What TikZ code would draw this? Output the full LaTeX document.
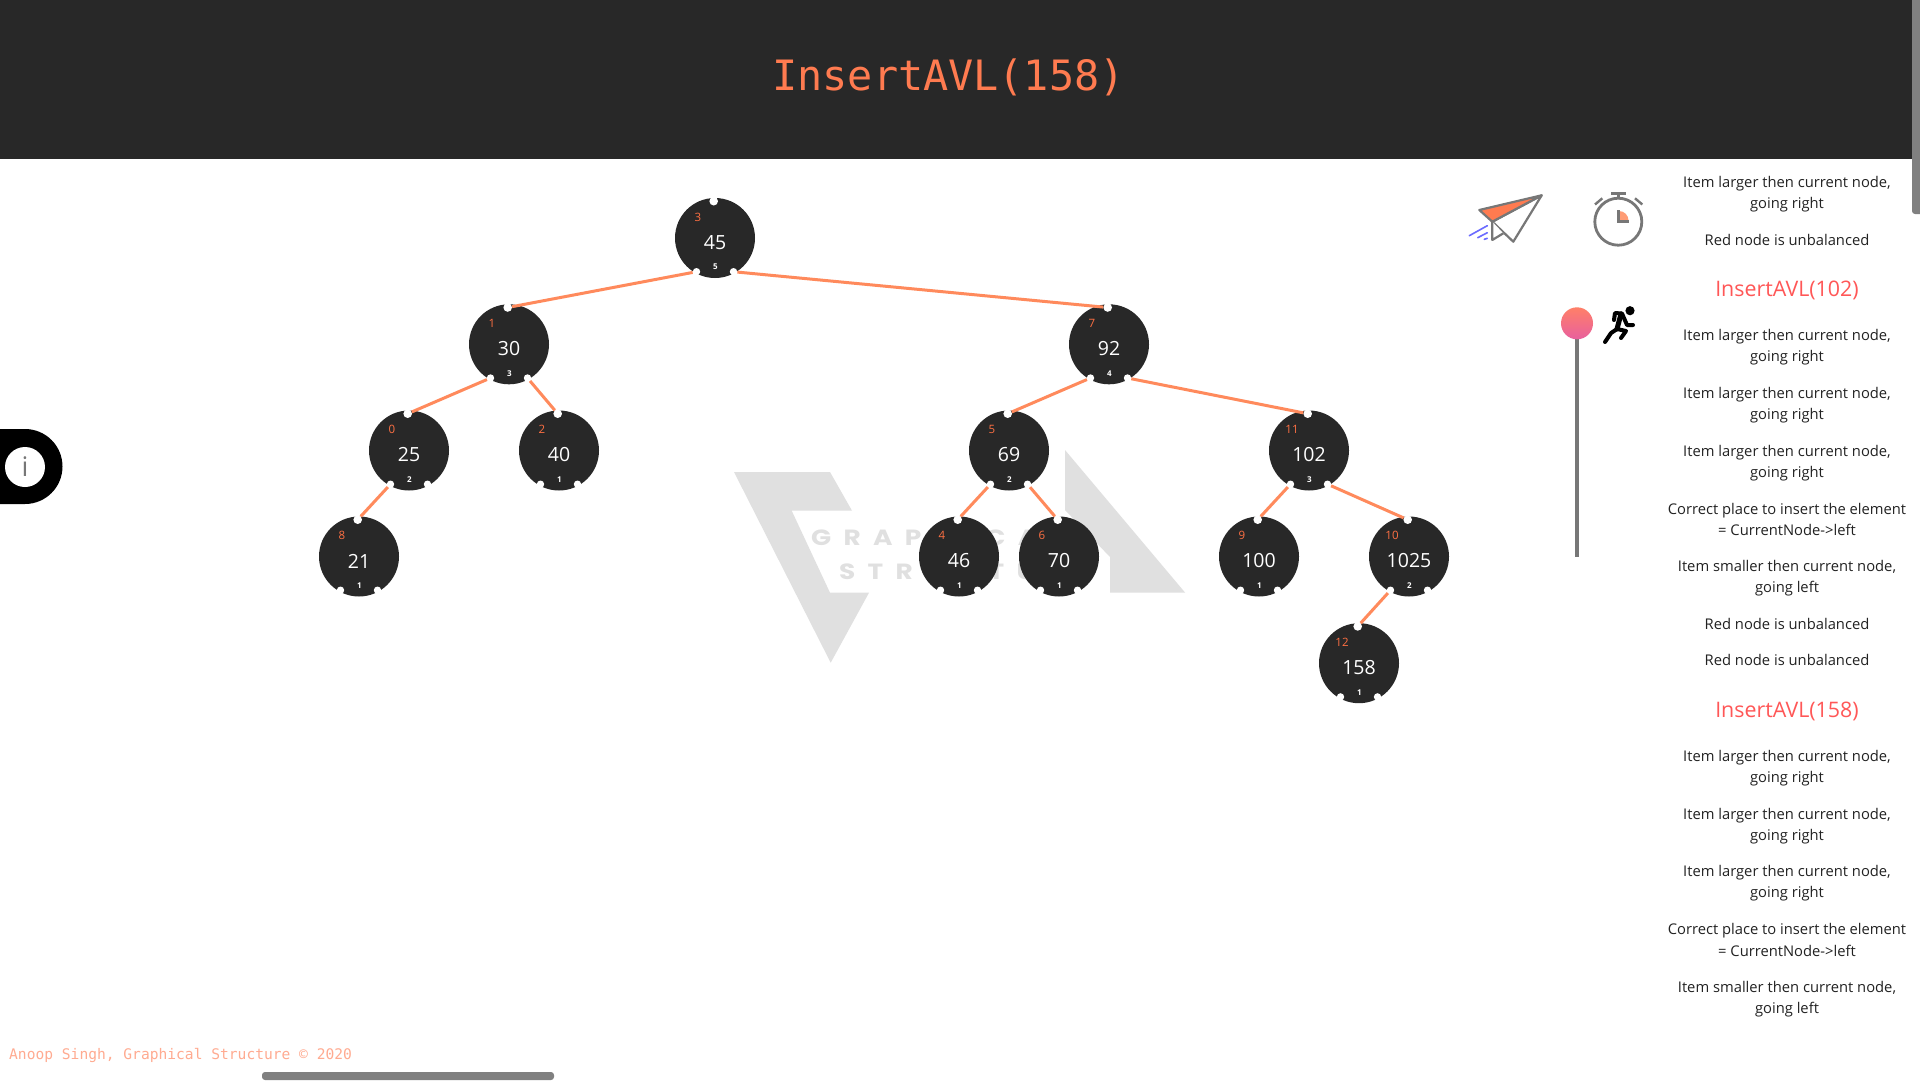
\documentclass[tikz,border=0pt]{standalone}
\usepackage{fontspec}
\setmainfont{Open Sans}
\newfontfamily\codefont{DejaVu Sans Mono}
\newfontfamily\valfont{Open Sans}
\newfontfamily\wmfont[FakeStretch=1.2,LetterSpace=56]{Poppins}
\definecolor{panel}{HTML}{282828}
\definecolor{edgeorange}{HTML}{FF8A5C}
\definecolor{titleorange}{HTML}{FF7B50}
\definecolor{idxorange}{HTML}{FF7043}
\definecolor{wm}{HTML}{E0E0E0}
\definecolor{iconline}{HTML}{777777}
\definecolor{msgred}{HTML}{FF5757}
\definecolor{msgtext}{HTML}{222222}
\definecolor{footer}{HTML}{FFAB91}
\definecolor{barg}{HTML}{808080}
\definecolor{speed}{HTML}{6B6BFF}
\definecolor{pintop}{HTML}{FF8068}
\definecolor{pinbot}{HTML}{E8609E}
\newcommand{\fs}[1]{\fontsize{#1}{#1}\selectfont}
\tikzset{
  x=1pt,y=-1pt,
  treecircle/.style={circle,fill=panel,draw=none,minimum size=80pt,inner sep=0pt},
  hole/.style={circle,fill=white,draw=none,minimum size=7.4pt,inner sep=0pt},
  tophole/.style={circle,fill=white,draw=none,minimum size=8.6pt,inner sep=0pt},
  valtext/.style={text=white,font=\valfont\fs{19.5},inner sep=0pt},
  idxtext/.style={text=idxorange,font=\valfont\fs{11.5},inner sep=0pt},
  baltext/.style={text=white,font=\valfont\bfseries\fs{8},inner sep=0pt},
  treeedge/.style={draw=edgeorange,line width=3pt},
  msg/.style={align=center,text=msgtext,font=\fs{14.75},inner sep=0pt},
  msgtitle/.style={text=msgred,font=\fs{21.4},inner sep=0pt},
  iconstroke/.style={draw=iconline,line width=2.2pt,line join=round},
  runner/.style={draw=black,line width=4pt,line join=round,line cap=round},
  speedline/.style={draw=speed,line width=1.6pt,line cap=round},
  wmtext/.style={text=wm,font=\wmfont\bfseries\fs{22},inner sep=0pt},
}
% name, x, y, value, index, balance
\newcommand{\avl}[6]{%
  \node[treecircle] (#1) at (#2,#3) {};
  \node[tophole] (#1-t) at ([xshift=-1.3pt,yshift=36.8pt]#1.center) {};
  \node[hole] (#1-l) at ([xshift=-18.5pt,yshift=-33.7pt]#1.center) {};
  \node[hole] (#1-r) at ([xshift=18.5pt,yshift=-33.7pt]#1.center) {};
  \node[valtext] (#1-v) at ([yshift=-4.5pt]#1.center) {#4};
  \node[idxtext] (#1-i) at ([xshift=-17pt,yshift=21pt]#1.center) {#5};
  \node[baltext] (#1-b) at ([xshift=0.5pt,yshift=-29pt]#1.center) {#6};
}
\begin{document}
\begin{tikzpicture}
\useasboundingbox (0,0) rectangle (1920,1080);
\fill[white] (0,0) rectangle (1920,1080);
% watermark
\fill[wm] (734,472) -- (830,472) -- (852,510.7) -- (791.7,510.7) -- (830,592.7) -- (869,592.7) -- (830.7,662.7) -- cycle;
\fill[wm] (1065,450) -- (1185,592.5) -- (1110,592.5) -- (1110,557) -- (1065,510) -- cycle;
\node[wmtext,anchor=west] (wmA) at (811,538) {GRAPHICAL};
\node[wmtext,anchor=west] (wmB) at (839,572) {STRUCTURE};
% header
\fill[panel] (0,0) rectangle (1920,159);
\node[text=titleorange,font=\codefont\fs{41.8},inner sep=0pt] (title) at (948.5,77) {InsertAVL(158)};
% scrollbars
\fill[barg,rounded corners=3pt] (1912,-6) rectangle (1926,214);
\fill[barg,rounded corners=3pt] (262,1072) rectangle (554,1080);
% tree
\avl{n45}{715}{238}{45}{3}{5}
\avl{n30}{509}{344.3}{30}{1}{3}
\avl{n92}{1109}{344.3}{92}{7}{4}
\avl{n25}{409}{450.5}{25}{0}{2}
\avl{n40}{559}{450.5}{40}{2}{1}
\avl{n69}{1009}{450.5}{69}{5}{2}
\avl{n102}{1309}{450.5}{102}{11}{3}
\avl{n21}{359}{556.5}{21}{8}{1}
\avl{n46}{959}{556.5}{46}{4}{1}
\avl{n70}{1059}{556.5}{70}{6}{1}
\avl{n100}{1259}{556.5}{100}{9}{1}
\avl{n1025}{1409}{556.5}{1025}{10}{2}
\avl{n158}{1359}{663.2}{158}{12}{1}
\draw[treeedge] (n45-l) -- (n30-t);
\draw[treeedge] (n45-r) -- (n92-t);
\draw[treeedge] (n30-l) -- (n25-t);
\draw[treeedge] (n30-r) -- (n40-t);
\draw[treeedge] (n92-l) -- (n69-t);
\draw[treeedge] (n92-r) -- (n102-t);
\draw[treeedge] (n25-l) -- (n21-t);
\draw[treeedge] (n69-l) -- (n46-t);
\draw[treeedge] (n69-r) -- (n70-t);
\draw[treeedge] (n102-l) -- (n100-t);
\draw[treeedge] (n102-r) -- (n1025-t);
\draw[treeedge] (n1025-l) -- (n158-t);
% info button
\fill[black] (0,429) -- (25,429) arc[start angle=-90,end angle=90,radius=37.5] -- (0,504) -- cycle;
\node[circle,fill=white,minimum size=40pt,inner sep=0pt] (info) at (25,467) {};
\node[text=iconline,font=\fs{27},inner sep=0pt] (infoi) at (info) {i};
% paper plane
\draw[iconstroke,fill=white] (1541.7,195.3) -- (1513.3,241.7) -- (1492.3,221.7) -- cycle;
\draw[iconstroke,fill=white] (1492.3,221.7) -- (1492.3,240) -- (1503.3,233.3);
\draw[iconstroke,fill=titleorange] (1541.7,195.3) -- (1479.3,210) -- (1492.3,221.7) -- cycle;
\draw[speedline] (1469.3,235.7) -- (1487.3,225.7);
\draw[speedline] (1477.7,237.7) -- (1487.3,232.7);
\draw[speedline] (1484.3,239.3) -- (1487.3,238.3);
% stopwatch
\draw[iconstroke,line width=2.8pt] (1618.3,221.7) circle[radius=23.5];
\draw[iconstroke,line width=2.8pt] (1611,193.3) -- (1626,193.3);
\draw[iconstroke,line width=2.8pt] (1618.3,193.3) -- (1618.3,199);
\draw[iconstroke,line width=2.4pt] (1595,204.5) -- (1602.3,198.3);
\draw[iconstroke,line width=2.4pt] (1635,198.3) -- (1642.3,204.5);
\fill[edgeorange!85] (1619,220.5) -- (1619,211) arc[start angle=-90,end angle=0,radius=9.5] -- cycle;
\draw[iconstroke,line width=2.6pt,line join=miter] (1618.3,210) -- (1618.3,221.7) -- (1628.5,221.7);
% slider
\draw[draw=iconline,line width=3.5pt] (1577,335) -- (1577,557);
\shade[top color=pintop,bottom color=pinbot] (1577,323.3) circle[radius=16];
% runner
\fill[black] (1630,310.7) circle[radius=4.6];
\draw[runner] (1614,320) -- (1615,313) -- (1622,313.5) -- (1627,325) -- (1633,325);
\draw[runner,line width=5pt] (1621,314) -- (1617,329);
\draw[runner] (1617,329) -- (1611,333) -- (1605,342);
\draw[runner] (1617,329) -- (1626,331) -- (1621,338);
% footer
\node[anchor=west,text=footer,font=\codefont\fs{14.6},inner sep=0pt] (foot) at (9,1055) {Anoop Singh, Graphical Structure © 2020};
% messages
\node[msg] (m1) at (1787,194.5) {Item larger then current node,\\[6pt]going right};
\node[msg] (m2) at (1787,239.5) {Red node is unbalanced};
\node[msgtitle] (m3) at (1787,290) {InsertAVL(102)};
\node[msg] (m4) at (1787,347.5) {Item larger then current node,\\[6pt]going right};
\node[msg] (m5) at (1787,405.5) {Item larger then current node,\\[6pt]going right};
\node[msg] (m6) at (1787,463) {Item larger then current node,\\[6pt]going right};
\node[msg] (m7) at (1787,519.5) {Correct place to insert the element\\[6pt]= CurrentNode->left};
\node[msg] (m8) at (1787,578.5) {Item smaller then current node,\\[6pt]going left};
\node[msg] (m9) at (1787,623.5) {Red node is unbalanced};
\node[msg] (m10) at (1787,660) {Red node is unbalanced};
\node[msgtitle] (m11) at (1787,711) {InsertAVL(158)};
\node[msg] (m12) at (1787,768.5) {Item larger then current node,\\[6pt]going right};
\node[msg] (m13) at (1787,826.5) {Item larger then current node,\\[6pt]going right};
\node[msg] (m14) at (1787,883.5) {Item larger then current node,\\[6pt]going right};
\node[msg] (m15) at (1787,940) {Correct place to insert the element\\[6pt]= CurrentNode->left};
\node[msg] (m16) at (1787,999) {Item smaller then current node,\\[6pt]going left};
\end{tikzpicture}
\end{document}
